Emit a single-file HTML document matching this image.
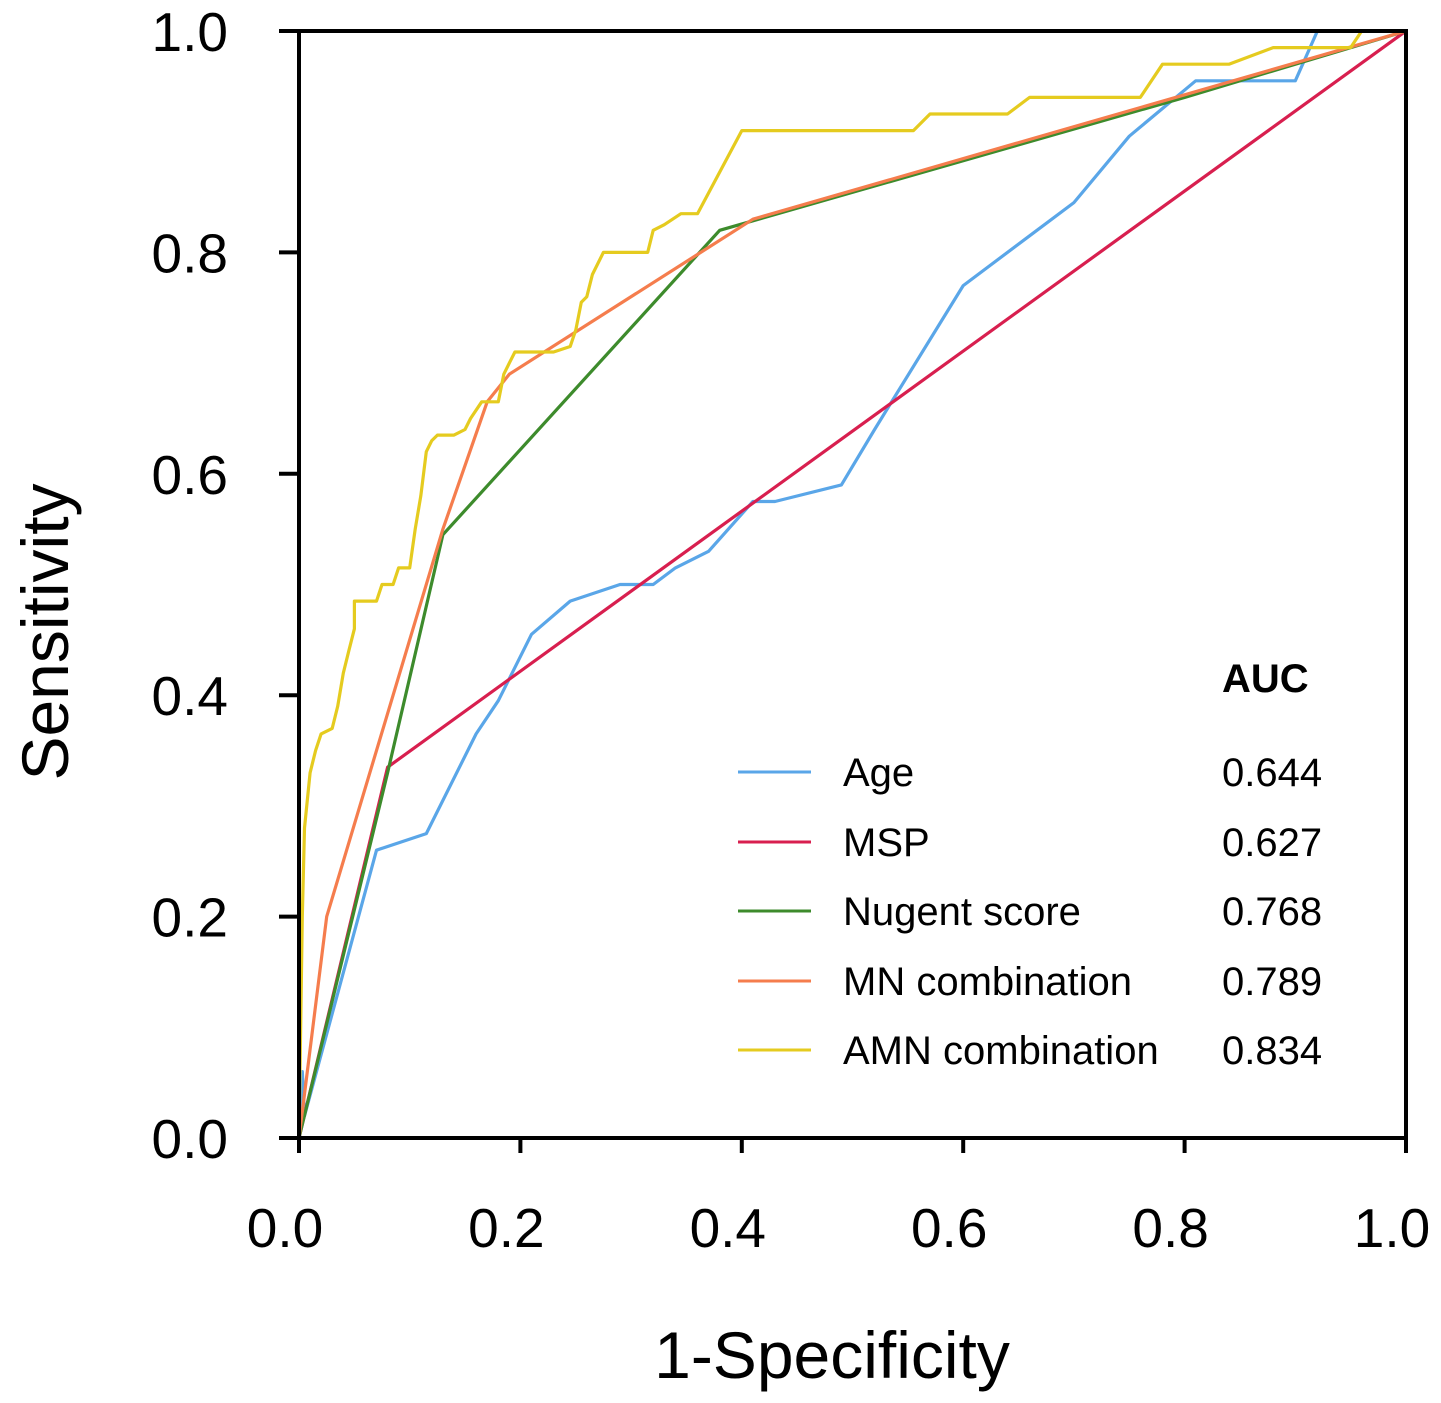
<!DOCTYPE html>
<html><head><meta charset="utf-8"><style>
body{margin:0;background:#fff;}
svg{display:block;font-family:"Liberation Sans",Arial,sans-serif;}
</style></head><body>
<svg id="chart" width="1441" height="1403" viewBox="0 0 1441 1403" xmlns="http://www.w3.org/2000/svg">
</svg>
<script>
const xTicks=[0,0.2,0.4,0.6,0.8,1.0];
const yTicks=[0,0.2,0.4,0.6,0.8,1.0];
const tickLabels=["0.0","0.2","0.4","0.6","0.8","1.0"];
const seriesNames=["Age","MSP","Nugent score","MN combination","AMN combination"];
const seriesAUC=["0.644","0.627","0.768","0.789","0.834"];
const seriesColors=["#5aa6e8","#d81f4f","#3d8b2c","#f57d4d","#e5cb1f"];
const ageX=[0,0.003,0.005,0.07,0.115,0.16,0.18,0.21,0.245,0.29,0.32,0.34,0.37,0.41,0.43,0.49,0.52,0.6,0.66,0.7,0.75,0.81,0.9,0.92,1];
const ageY=[0,0.06,0.02,0.26,0.275,0.365,0.395,0.455,0.485,0.5,0.5,0.515,0.53,0.575,0.575,0.59,0.64,0.77,0.815,0.845,0.905,0.955,0.955,1,1];
const mspX=[0,0.08,1];
const mspY=[0,0.335,1];
const nugX=[0,0.08,0.13,0.38,0.8,1];
const nugY=[0,0.33,0.545,0.82,0.94,1];
const mnX=[0,0.025,0.13,0.17,0.19,0.41,1];
const mnY=[0,0.2,0.55,0.665,0.69,0.83,1];
const amnX=[0,0.003,0.005,0.01,0.015,0.02,0.03,0.035,0.04,0.045,0.05,0.05,0.07,0.075,0.085,0.09,0.1,0.105,0.11,0.115,0.12,0.125,0.14,0.15,0.155,0.165,0.18,0.185,0.19,0.195,0.23,0.245,0.25,0.255,0.26,0.265,0.275,0.315,0.32,0.33,0.345,0.36,0.4,0.555,0.57,0.64,0.66,0.76,0.78,0.84,0.88,0.95,0.96,1];
const amnY=[0,0.2,0.28,0.33,0.35,0.365,0.37,0.39,0.42,0.44,0.46,0.485,0.485,0.5,0.5,0.515,0.515,0.55,0.58,0.62,0.63,0.635,0.635,0.64,0.65,0.665,0.665,0.69,0.7,0.71,0.71,0.715,0.73,0.755,0.76,0.78,0.8,0.8,0.82,0.825,0.835,0.835,0.91,0.91,0.925,0.925,0.94,0.94,0.97,0.97,0.985,0.985,1,1];
const seriesX=[ageX,mspX,nugX,mnX,amnX];
const seriesY=[ageY,mspY,nugY,mnY,amnY];
const seriesKeys=["age","msp","nugent","mn","amn"];

const X0=299,X1=1406,Y0=1138,Y1=31;
const sx=v=>X0+v*(X1-X0), sy=v=>Y0-v*(Y0-Y1);
const NS="http://www.w3.org/2000/svg";
const svg=document.getElementById('chart');
function mk(tag,attrs,parent){const e=document.createElementNS(NS,tag);for(const k in attrs)e.setAttribute(k,attrs[k]);(parent||svg).appendChild(e);return e;}

[0,1,2,3,4].forEach(i=>{
  const pts=seriesX[i].map((x,j)=>sx(x).toFixed(1)+","+sy(seriesY[i][j]).toFixed(1)).join(" ");
  const p=mk('polyline',{points:pts,fill:"none",stroke:seriesColors[i],"stroke-width":3.2,"stroke-linejoin":"round"});
  
  
});

const fr=mk('rect',{x:X0,y:Y1,width:X1-X0,height:Y0-Y1,fill:"none",stroke:"#000","stroke-width":4});



xTicks.forEach((v,i)=>{
  const t=mk('line',{x1:sx(v),x2:sx(v),y1:Y0,y2:Y0+15,stroke:"#000","stroke-width":4});
  
  
  const l=mk('text',{x:sx(v)-14,y:1247,"font-size":55,"text-anchor":"middle",fill:"#000"});
  l.textContent=tickLabels[i];
  
  
});
yTicks.forEach((v,i)=>{
  const t=mk('line',{x1:X0-20,x2:X0,y1:sy(v),y2:sy(v),stroke:"#000","stroke-width":4});
  
  
  const l=mk('text',{x:228,y:sy(v)+20,"font-size":55,"text-anchor":"end",fill:"#000"});
  l.textContent=tickLabels[i];
  
  
});

const xt=mk('text',{x:832,y:1378,"font-size":66,"text-anchor":"middle",fill:"#000"});
xt.textContent="1-Specificity";


const yt=mk('text',{x:0,y:0,"font-size":66,"text-anchor":"middle",fill:"#000",transform:"translate(68,632) rotate(-90)"});
yt.textContent="Sensitivity";



const ah=mk('text',{x:1222,y:692,"font-size":40,"font-weight":"bold",fill:"#000"});
ah.textContent="AUC";


const legY=[772,842,911,981,1050];
seriesNames.forEach((n,i)=>{
  const g=mk('g',{});
  
  
  mk('line',{x1:738,x2:811,y1:legY[i],y2:legY[i],stroke:seriesColors[i],"stroke-width":3},g);
  const t=mk('text',{x:843,y:legY[i]+14,"font-size":40,fill:"#000"},g);
  t.textContent=n;
  const a=mk('text',{x:1222,y:legY[i]+14,"font-size":40,fill:"#000"},g);
  a.textContent=seriesAUC[i];
});
</script>
</body></html>
